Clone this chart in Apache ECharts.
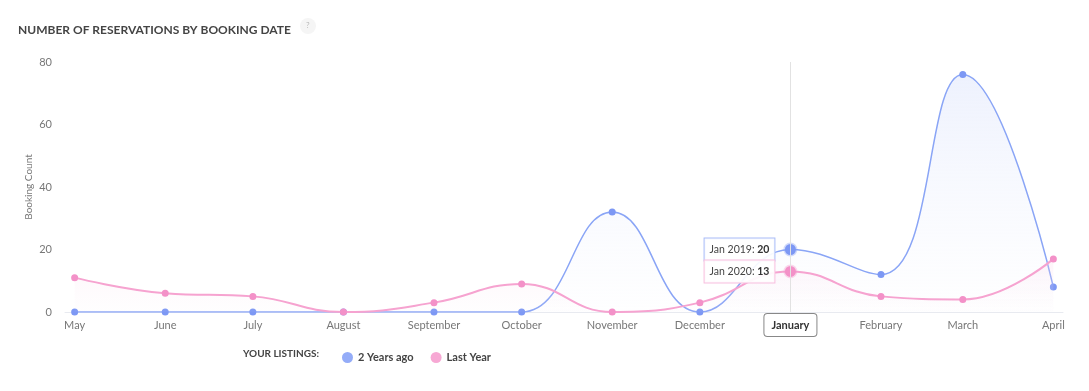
<!DOCTYPE html>
<html><head><meta charset="utf-8">
<script src="https://cdn.jsdelivr.net/npm/echarts@6/dist/echarts.min.js"></script>
<style>html,body{margin:0;padding:0;background:#fff;}#c{width:1089px;height:391px;}</style>
</head><body><div id="c"></div>
<script>
const months = ['2018-05-01','2018-06-01','2018-07-01','2018-08-01','2018-09-01','2018-10-01','2018-11-01','2018-12-01','2019-01-01','2019-02-01','2019-03-01','2019-04-01'];
const monthNames = ['January','February','March','April','May','June','July','August','September','October','November','December'];
const twoYearsAgo = [0,0,0,0,0,0,32,0,20,12,76,8];
const lastYear = [11,6,5,0,3,9,0,3,13,5,4,17];
const yTicks = [0,20,40,60,80];
const highlightIndex = 8;
const labelPrefixBlue = 'Jan 2019';
const labelPrefixPink = 'Jan 2020';

const FONT = 'Lato, "Open Sans", sans-serif';
const BLUE = '#8aa5f6', BLUE_PT = '#7d98f4';
const PINK = '#f6a3d0', PINK_PT = '#f391c8';
const DAY = 86400000;
const t0 = echarts.time.parse(months[0]).getTime();
const t1 = echarts.time.parse(months[months.length - 1]).getTime();
const pad = 3.3 * DAY;

function mkData(arr, color, halo, prefix, border) {
  return arr.map((v, i) => {
    const x = months[i];
    if (i !== highlightIndex) return [x, v];
    return {
      value: [x, v],
      symbolSize: 11,
      itemStyle: {color: color, borderColor: halo, borderWidth: 3},
      label: {
        show: true, position: 'left', distance: 9,
        formatter: () => '{a|' + prefix + ': }{b|' + v + '}',
        backgroundColor: 'rgba(255,255,255,0.92)',
        borderColor: border, borderWidth: 1,
        padding: [6, 5, 5, 5],
        rich: {
          a: {fontFamily: FONT, fontSize: 10.5, color: '#444'},
          b: {fontFamily: FONT, fontSize: 10.5, color: '#333', fontWeight: 'bold'}
        }
      }
    };
  });
}

const chart = echarts.init(document.getElementById('c'));
chart.setOption({
  animation: false,
  textStyle: {fontFamily: FONT},
  title: {
    text: 'NUMBER OF RESERVATIONS BY BOOKING DATE',
    left: 13, top: 19,
    textStyle: {fontFamily: FONT, fontSize: 12, fontWeight: 'bold', color: '#444'}
  },
  graphic: [
    {type: 'circle', shape: {cx: 308, cy: 26, r: 8}, style: {fill: '#f5f5f5'}},
    {type: 'text', x: 306, y: 21, style: {text: '?', fontSize: 8, fill: '#bbb', fontFamily: FONT}},
    {type: 'text', left: 243, top: 349, style: {text: 'YOUR LISTINGS:', fontSize: 10, fontWeight: 'bold', fill: '#444', fontFamily: FONT}}
  ],
  legend: {
    left: 337, top: 347,
    itemWidth: 11, itemHeight: 11, itemGap: 17,
    icon: 'circle',
    textStyle: {fontFamily: FONT, fontSize: 11, fontWeight: 'bold', color: '#444'},
    data: [
      {name: '2 Years ago', itemStyle: {color: '#94acf8'}},
      {name: 'Last Year', itemStyle: {color: '#f7a8d4'}}
    ]
  },
  grid: {left: 65, right: 26, top: 62, bottom: 79},
  xAxis: {
    type: 'time', min: t0 - pad, max: t1 + pad,
    minInterval: 28 * DAY, maxInterval: 31 * DAY,
    axisLine: {lineStyle: {color: '#e8eaf0'}},
    axisTick: {show: false},
    splitLine: {show: false},
    axisLabel: {color: '#777', fontSize: 11, margin: 8, fontFamily: FONT,
      showMinLabel: false, showMaxLabel: false,
      formatter: v => monthNames[new Date(v).getMonth()],
      rich: {}
    },
    axisPointer: {
      show: true, value: months[highlightIndex], status: 'show', type: 'line', triggerTooltip: false,
      lineStyle: {color: '#e2e2e2', width: 1, type: 'solid'},
      label: {
        show: true, backgroundColor: '#fff', borderColor: '#888', borderWidth: 1,
        color: '#333', fontWeight: 'bold', fontSize: 11, padding: [6, 7, 5, 7],
        margin: 2, fontFamily: FONT, shadowBlur: 0,
        formatter: p => monthNames[new Date(p.value).getMonth()]
      }
    }
  },
  yAxis: {
    type: 'value', min: 0, max: 80, interval: 20,
    name: 'Booking Count', nameLocation: 'middle', nameRotate: 90, nameGap: 31,
    nameMoveOverlap: false,
    nameTextStyle: {color: '#777', fontSize: 10, fontFamily: FONT},
    axisLine: {show: false}, axisTick: {show: false},
    splitLine: {show: false},
    axisLabel: {color: '#777', fontSize: 11, margin: 13, fontFamily: FONT,
      formatter: v => yTicks.includes(v) ? String(v) : ''}
  },
  series: [
    {
      name: '2 Years ago', type: 'line', smooth: 0.45,
      data: mkData(twoYearsAgo, BLUE_PT, 'rgba(125,152,244,0.35)', labelPrefixBlue, '#a9bcf8'),
      symbol: 'circle', symbolSize: 7,
      lineStyle: {color: BLUE, width: 1.5},
      itemStyle: {color: BLUE_PT},
      areaStyle: {color: new echarts.graphic.LinearGradient(0, 0, 0, 1, [
        {offset: 0, color: 'rgba(200,212,250,0.45)'},
        {offset: 1, color: 'rgba(230,236,253,0.05)'}
      ])},
      z: 2
    },
    {
      name: 'Last Year', type: 'line', smooth: 0.45,
      data: mkData(lastYear, PINK_PT, 'rgba(243,145,200,0.35)', labelPrefixPink, '#f8bfdf'),
      symbol: 'circle', symbolSize: 7,
      lineStyle: {color: PINK, width: 2},
      itemStyle: {color: PINK_PT},
      areaStyle: {color: new echarts.graphic.LinearGradient(0, 0, 0, 1, [
        {offset: 0, color: 'rgba(250,210,232,0.35)'},
        {offset: 1, color: 'rgba(252,235,245,0.05)'}
      ])},
      z: 3
    }
  ]
});
</script></body></html>
